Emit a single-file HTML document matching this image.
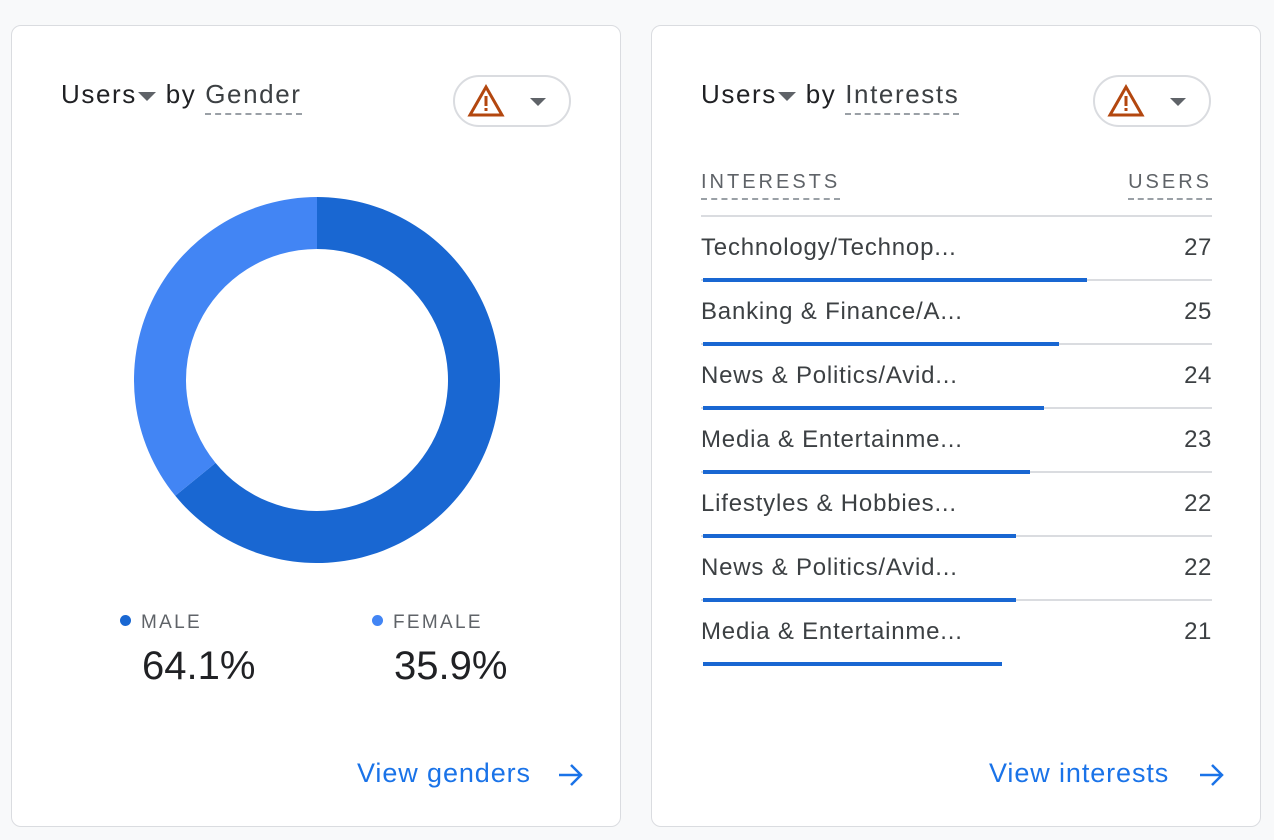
<!DOCTYPE html>
<html><head><meta charset="utf-8">
<style>
body{margin:0;width:1274px;height:840px;background:#f8f9fa;font-family:"Liberation Sans",sans-serif;position:relative;overflow:hidden}
.card{position:absolute;top:25px;width:608px;height:800px;background:#fff;border:1px solid #dadce0;border-radius:10px}
.abs{position:absolute}
.title{font-size:26px;letter-spacing:1.6px;color:#202124;top:53px;white-space:nowrap}
.dash{border-bottom:2px dashed #9aa0a6;padding-bottom:4px;color:#3c4043}
.caret{display:inline-block;width:0;height:0;border-left:9px solid transparent;border-right:9px solid transparent;border-top:9px solid #5f6368;vertical-align:middle;margin:0 1px}
.pill{position:absolute;top:49px;width:118px;height:52px;border:2px solid #dadce0;border-radius:28px;box-sizing:border-box}
.link{position:absolute;top:732px;font-size:27px;letter-spacing:0.9px;color:#1a73e8;white-space:nowrap}
.arrow{position:absolute;top:736px}
</style></head><body>
<div class="card" style="left:11px">
  <div class="abs title" style="left:49px">Users<span class="caret"></span> by <span class="dash">Gender</span></div>
  <div class="pill" style="left:441px">
    <svg width="118" height="52" style="position:absolute;left:-2px;top:-2px"><path d="M33 12 L49 40 L17 40 Z" fill="none" stroke="#b3470f" stroke-width="3"/><rect x="31.5" y="21" width="3" height="10" fill="#b3470f"/><rect x="31.5" y="33" width="3" height="3" fill="#b3470f"/><path d="M77 23 L93 23 L85 31 Z" fill="#5f6368"/></svg>
  </div>
  <svg id="donut" class="abs" style="left:0;top:0" width="608" height="800"></svg>
  <div class="abs" style="left:108px;top:586px;font-size:19px;letter-spacing:2.3px;color:#5f6368"><span style="display:inline-block;width:11px;height:11px;border-radius:50%;background:#1967d2;margin-right:10px;vertical-align:2px"></span>MALE</div>
  <div class="abs" style="left:130px;top:618px;font-size:40px;color:#202124" id="malePct">64.1%</div>
  <div class="abs" style="left:360px;top:586px;font-size:19px;letter-spacing:2.3px;color:#5f6368"><span style="display:inline-block;width:11px;height:11px;border-radius:50%;background:#4285f4;margin-right:10px;vertical-align:2px"></span>FEMALE</div>
  <div class="abs" style="left:382px;top:618px;font-size:40px;color:#202124" id="femalePct">35.9%</div>
  <div class="link" style="left:345px">View genders</div>
  <svg class="arrow" style="left:545px" width="28" height="26"><path d="M2 13 H24 M14 3 L24 13 L14 23" fill="none" stroke="#1a73e8" stroke-width="2.5"/></svg>
</div>
<div class="card" style="left:651px">
  <div class="abs title" style="left:49px">Users<span class="caret"></span> by <span class="dash">Interests</span></div>
  <div class="pill" style="left:441px">
    <svg width="118" height="52" style="position:absolute;left:-2px;top:-2px"><path d="M33 12 L49 40 L17 40 Z" fill="none" stroke="#b3470f" stroke-width="3"/><rect x="31.5" y="21" width="3" height="10" fill="#b3470f"/><rect x="31.5" y="33" width="3" height="3" fill="#b3470f"/><path d="M77 23 L93 23 L85 31 Z" fill="#5f6368"/></svg>
  </div>
  <div class="abs" style="left:49px;top:145px;font-size:20px;letter-spacing:3px;color:#5f6368;border-bottom:2px dashed #9aa0a6;padding-bottom:4px">INTERESTS</div>
  <div class="abs" style="right:48px;top:145px;font-size:20px;letter-spacing:3px;color:#5f6368;border-bottom:2px dashed #9aa0a6;padding-bottom:4px">USERS</div>
  <div class="abs" style="left:49px;top:189px;width:511px;height:2px;background:#dadce0"></div>
  <div id="rows"></div>
  <div class="link" style="left:337px">View interests</div>
  <svg class="arrow" style="left:546px" width="28" height="26"><path d="M2 13 H24 M14 3 L24 13 L14 23" fill="none" stroke="#1a73e8" stroke-width="2.5"/></svg>
</div>
<script>
const genderLabels=["Male","Female"];
const genderValues=[64.1,35.9];
const genderColors=["#1967d2","#4285f4"];
const interestLabels=["Technology/Technop...","Banking & Finance/A...","News & Politics/Avid...","Media & Entertainme...","Lifestyles & Hobbies...","News & Politics/Avid...","Media & Entertainme..."];
const interestValues=[27,25,24,23,22,22,21];

(function(){
  const svg=document.getElementById('donut');
  const cx=305,cy=354,ro=183,ri=131;
  const total=genderValues.reduce((a,b)=>a+b,0);
  let a0=0;
  genderValues.forEach((v,i)=>{
    const a1=a0+v/total*2*Math.PI;
    const p=(r,a)=>[cx+r*Math.sin(a),cy-r*Math.cos(a)];
    const large=(a1-a0)>Math.PI?1:0;
    const [x1,y1]=p(ro,a0),[x2,y2]=p(ro,a1),[x3,y3]=p(ri,a1),[x4,y4]=p(ri,a0);
    const path=document.createElementNS('http://www.w3.org/2000/svg','path');
    path.setAttribute('d',`M${x1} ${y1} A${ro} ${ro} 0 ${large} 1 ${x2} ${y2} L${x3} ${y3} A${ri} ${ri} 0 ${large} 0 ${x4} ${y4} Z`);
    path.setAttribute('fill',genderColors[i]);
    
    
    svg.appendChild(path);
    a0=a1;
  });
  document.getElementById('malePct').textContent=genderValues[0].toFixed(1)+'%';
  document.getElementById('femalePct').textContent=genderValues[1].toFixed(1)+'%';

  const rows=document.getElementById('rows');
  const scale=384/27;
  interestLabels.forEach((lab,i)=>{
    const top=191+i*64;
    const row=document.createElement('div');
    row.className='abs';
    row.style.cssText=`left:49px;top:${top}px;width:511px;height:64px`;
    
    
    row.innerHTML=`<div class="abs" style="left:0;top:17px;font-size:24px;letter-spacing:0.8px;color:#3c4043;white-space:nowrap">${lab}</div><div class="abs" style="right:0;top:17px;font-size:24px;letter-spacing:0.6px;color:#3c4043">${interestValues[i]}</div>`+
      (i<interestLabels.length-1?`<div class="abs" style="left:0;top:62px;width:511px;height:2px;background:#dadce0"></div>`:'');
    const bar=document.createElement('div');
    bar.className='abs';
    bar.style.cssText=`left:2px;top:61px;height:4px;background:#1967d2;width:${interestValues[i]*scale}px`;
    
    
    row.appendChild(bar);
    rows.appendChild(row);
  });
})();
</script>
</body></html>
